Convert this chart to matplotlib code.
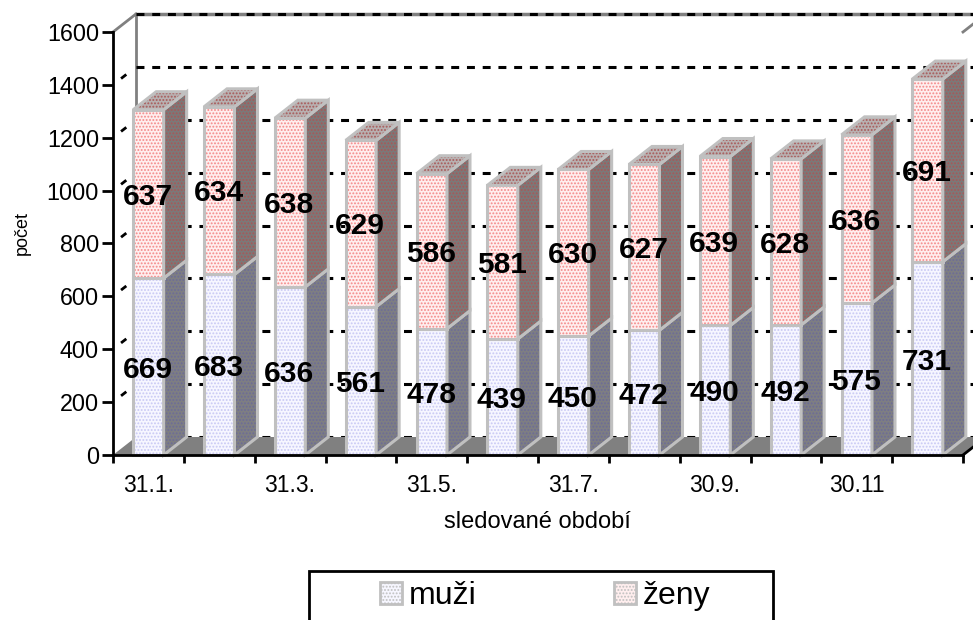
import matplotlib
matplotlib.use("Agg")
import matplotlib.pyplot as plt
from matplotlib.patches import Polygon, Patch, Rectangle

plt.rcParams['font.family'] = ['Liberation Sans', 'DejaVu Sans']
plt.rcParams['hatch.linewidth'] = 0.9

muzi = [669, 683, 636, 561, 478, 439, 450, 472, 490, 492, 575, 731]
zeny = [637, 634, 638, 629, 586, 581, 630, 627, 639, 628, 636, 691]
x_labels = ['31.1.', '31.3.', '31.5.', '31.7.', '30.9.', '30.11']
y_ticks = [0, 200, 400, 600, 800, 1000, 1200, 1400, 1600]

W, H = 973, 620
fig = plt.figure(figsize=(W / 100, H / 100), dpi=100)
ax = fig.add_axes([113 / W, 1 - 455 / H, 850 / W, 423 / H])
ax.set_xlim(0, 12)
ax.set_ylim(0, 1600)
ax.patch.set_alpha(0)

# oblique depth of the fake 3d, in data units
dx = 23 / 70.83
dy = 18 / 0.2644
bar_w = 0.43
edge = '#c0c0c0'

# back wall and floor
ax.plot([dx, dx], [dy, 1600 + dy], color='#808080', lw=2, clip_on=False, zorder=1)
ax.plot([dx, 13], [1600 + dy, 1600 + dy], color='#808080', lw=2.5, clip_on=False, zorder=1)
ax.plot([0, dx], [1600, 1600 + dy], color='#808080', lw=2, clip_on=False, zorder=1)
ax.plot([12, 12 + dx], [1600, 1600 + dy], color='#808080', lw=2, clip_on=False, zorder=1)
for v in y_ticks:
    ax.plot([dx, 13], [v + dy, v + dy], color='black', lw=2.2, dashes=(2.6, 2.55),
            clip_on=False, zorder=2)
    if 0 < v < 1600:
        ax.plot([dx * 0.35, dx * 0.65], [v + dy * 0.35, v + dy * 0.65], color='black',
                lw=2, dashes=(2.4, 1), clip_on=False, zorder=2)
ax.add_patch(Polygon([(0, 0), (dx, dy), (12 + dx, dy), (12, 0)], closed=True,
                     facecolor='#808080', edgecolor='none', clip_on=False, zorder=3))
ax.plot([12, 12 + dx], [0, dy], color='black', lw=2, clip_on=False, zorder=3)


def draw_segment(i, y0, y1, front, side, dots, side_dots, top=None):
    left = i + 0.5 - bar_w / 2
    right = left + bar_w
    z = 4 + i
    shapes = [([(left, y0), (right, y0), (right, y1), (left, y1)], front, dots),
              ([(right, y0), (right + dx, y0 + dy), (right + dx, y1 + dy), (right, y1)], side, side_dots)]
    if top:
        shapes.append(([(left, y1), (right, y1), (right + dx, y1 + dy), (left + dx, y1 + dy)], top, side_dots))
    for pts, col, dot in shapes:
        ax.add_patch(Polygon(pts, closed=True, facecolor=col, edgecolor=dot, hatch='.....',
                             lw=0, clip_on=False, zorder=z))
        ax.add_patch(Polygon(pts, closed=True, fill=False, edgecolor=edge, lw=2.2,
                             joinstyle='miter', clip_on=False, zorder=z))


for i in range(len(muzi)):
    draw_segment(i, 0, muzi[i], '#f6f6ff', '#7e7e82', '#c8c8f4', '#6c6c98')
    draw_segment(i, muzi[i], muzi[i] + zeny[i], '#ffeeee', '#7c7878', '#f48888', '#a85858', top='#b8b0b0')

for i in range(len(muzi)):
    ax.text(i + 0.49, muzi[i] / 2 - 12, str(muzi[i]), ha='center', va='center', fontsize=21.5,
            fontweight='bold', color='black', zorder=30)
    ax.text(i + 0.49, muzi[i] + zeny[i] / 2 - 10, str(zeny[i]), ha='center', va='center', fontsize=21.5,
            fontweight='bold', color='black', zorder=30)

for s in ['top', 'right']:
    ax.spines[s].set_visible(False)
for s in ['left', 'bottom']:
    ax.spines[s].set_linewidth(2)
    ax.spines[s].set_zorder(25)

ax.set_yticks(y_ticks)
ax.set_xticks(range(0, 13))
ax.set_xticklabels([])
ax.set_xticks([0.5 + 2 * k for k in range(len(x_labels))], x_labels, minor=True)
ax.tick_params(axis='y', length=8, width=2, labelsize=16.8, pad=2)
ax.tick_params(axis='x', which='major', length=6, width=2)
ax.tick_params(axis='x', which='minor', length=0, labelsize=16.5, pad=14)

fig.text(22 / W, 1 - 233 / H, 'počet', rotation=90, ha='center', va='center', fontsize=13)
fig.text(537 / W, 1 - 522 / H, 'sledované období', ha='center', va='center', fontsize=17)

# legend
fig.add_artist(Rectangle((309 / W, -5 / H), 464 / W, (H - 571 + 5) / H, transform=fig.transFigure,
                         fill=False, edgecolor='black', lw=2))
h_m = Patch(facecolor='#f6f6ff', edgecolor='#b8b8f0', hatch='.....', lw=0)
h_z = Patch(facecolor='#ffeeee', edgecolor='#f08080', hatch='.....', lw=0)
leg = fig.legend([h_m, h_z], ['muži', 'ženy'], ncol=2, frameon=False, fontsize=23,
                 loc='center left', bbox_to_anchor=(380 / W, 1 - 596 / H),
                 handlelength=0.69, handleheight=0.69, handletextpad=0.22,
                 columnspacing=4.3, borderpad=0, borderaxespad=0)
for p in leg.get_patches():
    p.set_edgecolor('#c0c0c0')
    p.set_linewidth(2)

fig.savefig('out.png', dpi=100)
